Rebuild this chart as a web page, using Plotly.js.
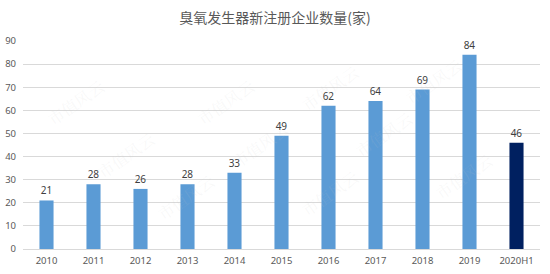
<!DOCTYPE html>
<html><head><meta charset="utf-8">
<script src="https://cdn.plot.ly/plotly-3.0.1.min.js"></script>
<style>html,body{margin:0;padding:0;background:#fff}#c{width:550px;height:274px}</style>
</head><body><div id="c"></div>
<script>
const categories = ['2010','2011','2012','2013','2014','2015','2016','2017','2018','2019','2020H1'];
const values = [21,28,26,28,33,49,62,64,69,84,46];
const barColors = categories.map(c => c === '2020H1' ? '#002060' : '#5B9BD5');
const yTicks = [0,10,20,30,40,50,60,70,80,90];
const titleText = '臭氧发生器新注册企业数量(家)';
const watermark = '市值风云';

const trace = {
  type: 'bar', x: categories, y: values,
  marker: {color: barColors},
  text: values.map(String), textposition: 'outside', cliponaxis: false,
  textfont: {family: 'Noto Sans, sans-serif', size: 10, color: '#404040'},
  hoverinfo: 'none'
};
const wm = [[40,0.85],[190,0.85],[330,0.92],[470,0.95],[90,0.45],[260,0.5],[420,0.55],[150,0.1],[330,0.12],[500,0.2]];
const annotations = wm.map(p => ({
  xref: 'paper', yref: 'paper', x: (p[0]-22.5)/518, y: p[1], text: watermark, showarrow: false,
  textangle: -35, font: {family: 'Noto Serif CJK SC, Noto Sans CJK SC', size: 16, color: 'rgba(200,200,200,0.12)'}
}));
const layout = {
  width: 550, height: 274,
  margin: {l: 22.5, r: 9.5, t: 40.7, b: 24.7},
  paper_bgcolor: '#fff', plot_bgcolor: '#fff',
  title: {text: titleText, x: 0.5, xanchor: 'center', y: 0.935, yanchor: 'middle',
          font: {family: 'Noto Sans CJK SC', size: 14, color: '#595959'}},
  bargap: 0.7,
  xaxis: {type: 'category', showgrid: false, zeroline: false, showline: false, ticks: '',
          ticklabelstandoff: 4,
          tickfont: {family: 'Noto Sans, sans-serif', size: 9.5, color: '#595959'}},
  yaxis: {range: [0, 90], tickvals: yTicks, showgrid: true, gridcolor: '#D9D9D9', gridwidth: 1,
          zeroline: true, zerolinecolor: '#D9D9D9', showline: false, ticks: '',
          ticklabelstandoff: 6,
          tickfont: {family: 'Noto Sans, sans-serif', size: 9.5, color: '#595959'}},
  annotations: annotations,
  showlegend: false
};
Plotly.newPlot('c', [trace], layout, {staticPlot: true});
</script></body></html>
